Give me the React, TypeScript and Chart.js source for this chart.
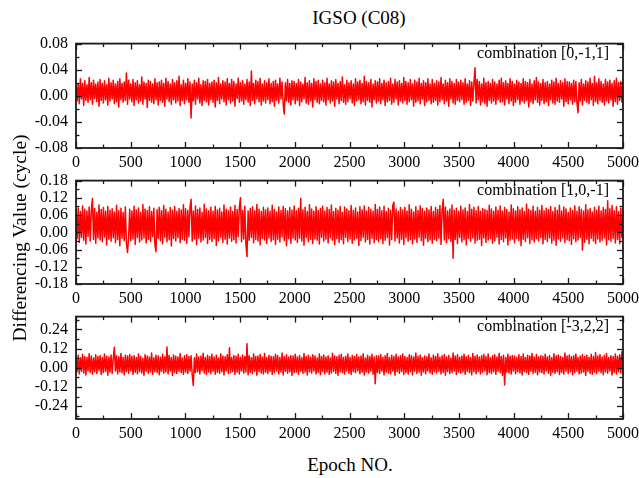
import React, { useEffect, useRef } from "react";
import { Chart, registerables } from "chart.js";

Chart.register(...registerables);

const FONT = "\"Liberation Serif\", \"Times New Roman\", Times, serif";
const EPOCH_MAX = 5000;
const X_MAJOR = 500;
const X_MINOR = 250;

const title = "IGSO (C08)";
const xTitle = "Epoch NO.";
const yTitle = "Differencing Value (cycle)";

// Differencing values sampled along epochs 0..5000, in units of 0.001 cycle
const comb011 = [
  22,-8,18,-12,26,-5,19,-15,23,-7,17,-10,28,-6,20,-13,24,-4,18,-9,21,-16,25,-7,19,
  -11,23,-6,17,-14,27,-8,20,-5,24,-12,18,-9,22,-17,26,-6,19,-10,21,-7,35,-13,24,-5,
  18,-9,25,-15,20,-6,23,-11,17,-8,29,-13,21,-5,19,-18,24,-7,22,-10,18,-12,26,-6,20,
  -14,21,-7,24,-10,19,-16,27,-5,22,-9,18,-13,25,-6,20,-11,23,-8,30,-15,17,-7,24,-12,
  19,-6,26,-10,21,-34,18,-8,24,-13,20,-5,27,-11,17,-15,23,-7,22,-9,25,-14,19,-6,21,
  -10,24,-17,20,-7,28,-12,18,-5,23,-9,21,-14,26,-6,19,-11,25,-8,22,-16,18,-4,27,-10,
  20,-8,23,-13,18,-6,25,-10,21,-15,38,-7,19,-12,24,-5,22,-9,27,-14,18,-8,23,-11,20,
  -6,26,-12,19,-9,22,-16,24,-7,18,-11,27,-5,21,-13,-28,20,-8,25,-10,19,-14,23,-6,22,
  -12,19,-7,25,-15,21,-9,18,-5,28,-11,20,-13,23,-8,19,-17,26,-6,22,-10,24,-12,18,-7,
  24,-9,20,-14,27,-6,18,-11,23,-8,21,-16,25,-5,19,-12,22,-7,29,-10,17,-13,24,-9,20,
  -5,23,-11,18,-15,26,-8,21,-6,24,-12,19,-9,30,-14,22,-7,20,-10,25,-17,18,-6,23,-11,
  21,-8,26,-12,19,-6,24,-15,20,-9,22,-7,27,-13,18,-10,25,-5,21,-14,23,-8,19,-11,28,
  -7,22,-13,20,-9,25,-6,18,-16,24,-10,21,-8,27,-12,19,-5,23,-15,20,-9,26,-7,18,-12,
  25,-10,19,-7,23,-14,21,-9,28,-6,18,-12,24,-8,20,-16,26,-5,22,-11,19,-13,25,-7,21,
  -9,24,-6,20,-13,26,-10,18,-7,23,-15,21,-8,19,43,-11,25,-6,22,-14,18,-9,27,-12,20,
  -16,22,-7,19,-11,25,-8,21,-13,18,-6,24,-10,27,-9,20,-14,23,-5,19,-12,26,-8,22,-15,
  18,-10,24,-6,21,-13,19,-8,26,-11,22,-7,20,-17,25,-9,18,-12,23,-6,28,-10,21,-14,19,
  -7,25,-12,20,-9,22,-15,18,-6,24,-11,21,-13,27,-8,19,-10,23,-5,20,-16,26,-9,22,-12,
  21,-6,19,-13,24,-9,22,-11,-26,20,-8,25,-14,18,-7,23,-10,21,-12,27,-6,19,-15,30,-9,
  20,-12,26,-7,22,-10,18,-14,25,-8,21,-11,24,-6,19,-16,23,-9,27,-13,20,-7,22,-10,24,
];

const comb101 = [
  78,-22,85,-35,72,-18,92,-28,80,-41,74,-15,88,-30,76,118,-25,83,-38,70,-20,95,-27,79,-33,
  86,-16,73,-44,90,-24,77,-31,82,-19,71,-36,94,-26,75,-47,84,-21,69,-29,88,-39,-70,-17,80,
  -30,74,-23,91,-42,78,-18,85,-34,70,-27,97,-20,81,-37,76,-25,89,-32,72,-15,84,-45,-68,79,
  -21,87,-29,75,-40,93,-17,80,-33,71,-26,86,-48,77,-22,90,-30,73,-19,83,-36,78,-24,96,-28,
  82,-38,76,-16,89,115,-31,74,-23,92,-43,79,-20,85,-34,70,-27,98,-18,81,-39,75,-25,87,-32,
  73,-22,90,-46,78,-29,84,-17,71,-35,95,-24,80,-41,76,-20,88,-31,72,-26,93,-37,79,-15,86,
  120,-33,77,-23,91,-40,-85,74,-28,83,-18,89,-36,75,-25,97,-30,80,-44,72,-21,87,-27,78,-39,
  85,-19,73,-32,94,-26,79,-42,71,-24,88,-34,76,-16,90,-29,82,-47,74,-22,86,-38,77,-20,92,
  -27,75,-35,84,-21,118,-30,78,-45,87,-18,72,-33,96,-25,81,-39,73,-23,89,-28,76,-41,83,-17,
  91,-31,74,-24,86,-37,79,-19,95,-28,72,-43,84,-22,77,-35,90,-26,70,-40,88,-18,81,-32,75,
  -23,93,-38,76,-27,85,-20,71,-46,89,-29,78,-17,92,-34,74,-25,87,-41,80,-21,73,-36,97,-26,
  79,-33,88,-22,75,-39,91,-28,72,-18,84,-44,77,-25,94,105,-30,81,-20,73,-37,86,-24,78,-42,
  87,-19,74,-31,96,-26,80,-40,71,-23,89,-35,76,-17,92,-29,83,-45,73,-21,85,-33,78,-27,90,
  -38,72,-24,86,-30,79,-20,93,-42,75,115,-27,88,-36,74,-22,81,-32,95,-90,77,-25,84,-39,73,
  -18,91,-34,78,-26,85,-43,72,-21,97,-31,80,-19,87,-37,75,-28,90,-24,73,-46,83,-20,79,-35,
  76,-27,94,-22,81,-38,73,-30,88,-17,77,-41,92,-25,74,-33,86,-20,79,-44,71,-28,95,-23,82,
  -36,74,-21,89,-29,78,-47,85,-24,72,-32,98,-19,80,-39,76,-26,91,-34,73,-22,87,-30,77,-18,
  93,-40,75,-25,84,-32,79,-20,90,-37,72,-28,86,-45,77,-23,94,-31,74,-19,88,-36,81,-26,70,
  -29,85,-42,76,-22,92,-33,73,-27,89,-18,80,-62,74,-35,96,-24,78,-40,83,-21,71,-30,87,-38,
  77,-23,91,-34,74,-28,86,-19,79,-44,110,-26,82,-31,93,-22,75,-37,89,-25,72,-40,84,-18,78,
];

const comb322 = [
  68,-25,79,-38,63,-21,84,-33,71,-45,66,-19,88,-29,74,-40,61,-24,82,-35,70,-18,77,-42,65,
  -30,86,-22,72,-47,67,-27,80,-36,62,128,-20,75,-39,69,-26,90,-31,64,-44,78,-23,73,-34,83,
  -19,70,-41,76,-28,65,-37,87,-24,71,-32,60,-46,81,-21,74,-35,68,-27,92,-40,63,-25,79,-30,
  73,-43,66,-22,85,-34,69,-26,130,-38,77,-20,64,-48,80,-29,72,-36,67,-23,89,-31,61,-41,75,
  -27,82,-35,70,-21,76,-44,-110,63,-30,86,-24,68,-39,74,-18,91,-33,65,-42,78,-26,71,-37,84,
  -22,67,-40,79,-28,62,-34,88,-25,73,-45,69,-19,81,-36,125,-30,64,-23,77,-41,72,-27,85,-38,
  66,-20,80,-33,71,-26,150,-43,76,-29,63,-37,87,-21,70,-46,74,-24,83,-32,68,-39,90,-28,65,
  -35,78,-23,72,-42,69,-30,84,-19,75,-38,64,-27,93,-44,70,-22,81,-34,67,-25,76,-48,73,-31,
  85,-26,68,-40,77,-21,63,-36,89,-28,71,-45,79,-24,66,-33,82,-20,74,-39,61,-29,87,-43,70,
  -23,80,-37,67,-27,75,-41,62,-32,91,-22,73,-35,69,-46,78,-25,84,-30,65,-38,72,-20,86,-34,
  64,-42,77,-24,70,-31,83,-19,68,-37,74,-28,88,-45,62,-26,79,-33,71,-21,85,-40,67,-100,76,
  -29,73,-36,81,-22,66,-44,75,-27,90,-32,63,-39,78,-20,70,-47,84,-25,68,-34,76,-23,87,-41,
  71,-30,64,-38,82,-24,76,-43,67,-21,93,-35,72,-28,80,-46,65,-26,74,-37,69,-19,86,-32,63,
  -40,79,-25,70,-33,88,-22,66,-39,75,-29,83,-47,68,-23,77,-36,62,-31,92,-20,73,-42,81,-27,
  66,-34,74,-26,85,-41,69,-21,78,-30,64,-44,89,-25,72,-37,80,-23,67,-38,76,-28,83,-19,70,
  -43,87,-29,63,-35,75,-24,82,-40,68,-22,91,-31,71,-46,79,-108,65,-27,84,-33,72,-39,77,-20,
  74,-37,66,-25,81,-32,70,-45,86,-23,64,-30,78,-41,73,-21,90,-36,67,-28,83,-43,69,-26,76,
  -31,72,-39,84,-20,68,-34,77,-47,63,-27,88,-36,75,-24,80,-42,71,-29,65,-38,92,-22,74,-35,
  80,-24,69,-44,76,-30,87,-21,65,-38,73,-33,82,-26,70,-48,79,-23,66,-35,85,-40,71,-28,95,
  -37,74,-22,83,-31,67,-43,78,-26,89,-34,64,-20,76,-45,70,-29,86,-39,72,-24,81,-32,100,-41,
];

const combLabels = ["combination [0,-1,1]", "combination [1,0,-1]", "combination [-3,2,2]"];

const yTicks011 = [-0.08, -0.04, 0, 0.04, 0.08];
const yTicks101 = [-0.18, -0.12, -0.06, 0, 0.06, 0.12, 0.18];
const yTicks322 = [-0.24, -0.12, 0, 0.12, 0.24];

type PanelSpec = {
  values: number[];
  label: string;
  yTicks: number[];
  yMin: number;
  yMax: number;
  yMinor: number;
  top: number; // plot area top, page px
  bottom: number; // plot area bottom, page px
};

const PLOT_LEFT = 76;
const PLOT_RIGHT = 623;
const CANVAS_W = 680;
const PAD_TOP = 12;
const X_AXIS_H = 30;

const panels: PanelSpec[] = [
  { values: comb011, label: combLabels[0], yTicks: yTicks011, yMin: -0.08, yMax: 0.08, yMinor: 0.02, top: 38, bottom: 148 },
  { values: comb101, label: combLabels[1], yTicks: yTicks101, yMin: -0.18, yMax: 0.18, yMinor: 0.03, top: 175, bottom: 284 },
  { values: comb322, label: combLabels[2], yTicks: yTicks322, yMin: -0.32, yMax: 0.32, yMinor: 0.06, top: 311, bottom: 419 },
];

// inward tick marks on all four sides plus the closed frame
const framePlugin = {
  id: "frame",
  afterDatasetsDraw(chart: any, _args: any, opts: any) {
    const { ctx, chartArea: a, scales } = chart;
    const xs = scales.x;
    const ys = scales.y;
    const stroke = (x1: number, y1: number, x2: number, y2: number) => {
      ctx.beginPath();
      ctx.moveTo(x1, y1);
      ctx.lineTo(x2, y2);
      ctx.stroke();
    };
    ctx.save();
    ctx.strokeStyle = "#1a1a1a";
    ctx.lineWidth = 1.3;
    for (let v = 0; v <= EPOCH_MAX; v += X_MINOR) {
      const px = Math.round(xs.getPixelForValue(v)) + 0.5;
      const len = v % X_MAJOR === 0 ? 6 : 3.5;
      stroke(px, a.bottom, px, a.bottom - len);
      stroke(px, a.top, px, a.top + len);
    }
    const majors: number[] = opts.majors;
    const minor: number = opts.minor;
    const k0 = Math.ceil(ys.min / minor - 1e-6);
    const k1 = Math.floor(ys.max / minor + 1e-6);
    for (let k = k0; k <= k1; k++) {
      const v = k * minor;
      const isMajor = majors.some((m) => Math.abs(m - v) < 1e-6);
      const py = Math.round(ys.getPixelForValue(v)) + 0.5;
      const len = isMajor ? 6 : 3.5;
      stroke(a.left, py, a.left + len, py);
      stroke(a.right, py, a.right - len, py);
    }
    ctx.lineWidth = 1.8;
    ctx.strokeRect(a.left, a.top, a.right - a.left, a.bottom - a.top);
    ctx.restore();
  },
};

function Panel({ spec }: { spec: PanelSpec }) {
  const ref = useRef<HTMLCanvasElement | null>(null);
  const areaH = spec.bottom - spec.top;
  const canvasH = PAD_TOP + areaH + X_AXIS_H;

  useEffect(() => {
    if (!ref.current) return;
    const n = spec.values.length;
    const points = spec.values.map((v, i) => ({
      x: (i * EPOCH_MAX) / (n - 1),
      y: v / 1000,
    }));
    const tickFont = { family: FONT, size: 16 };
    const chart = new Chart(ref.current, {
      type: "line",
      data: {
        datasets: [
          {
            data: points,
            borderColor: "#ff0000",
            borderWidth: 1.5,
            borderJoinStyle: "round",
            pointRadius: 0,
            tension: 0,
            fill: false,
          },
        ],
      },
      options: {
        animation: false,
        responsive: false,
        maintainAspectRatio: false,
        events: [],
        layout: { padding: { left: 0, right: CANVAS_W - PLOT_RIGHT, top: PAD_TOP, bottom: 0 } },
        plugins: {
          legend: { display: false },
          tooltip: { enabled: false },
          frame: { majors: spec.yTicks, minor: spec.yMinor },
        } as any,
        scales: {
          x: {
            type: "linear",
            min: 0,
            max: EPOCH_MAX,
            grid: { display: false, drawTicks: false },
            border: { display: false },
            ticks: {
              stepSize: X_MAJOR,
              autoSkip: false,
              maxRotation: 0,
              padding: 5,
              color: "#000",
              font: tickFont,
              callback: (v: any) => String(v),
            },
            afterFit: (s: any) => {
              s.height = X_AXIS_H;
            },
          },
          y: {
            type: "linear",
            min: spec.yMin,
            max: spec.yMax,
            grid: { display: false, drawTicks: false },
            border: { display: false },
            afterBuildTicks: (s: any) => {
              s.ticks = spec.yTicks.map((v) => ({ value: v }));
            },
            ticks: {
              autoSkip: false,
              padding: 8,
              color: "#000",
              font: tickFont,
              callback: (v: any) => Number(v).toFixed(2),
            },
            afterFit: (s: any) => {
              s.width = PLOT_LEFT;
            },
          },
        },
      },
      plugins: [framePlugin],
    } as any);
    let alive = true;
    // redraw once the serif face is confirmed available to the canvas
    if (document.fonts && document.fonts.load) {
      document.fonts.load("16px \"Liberation Serif\"").then(() => {
        if (alive) chart.update();
      });
    }
    return () => {
      alive = false;
      chart.destroy();
    };
  }, []);

  return (
    <>
      <canvas
        ref={ref}
        width={CANVAS_W}
        height={canvasH}
        style={{ position: "absolute", left: 0, top: spec.top - PAD_TOP, width: CANVAS_W, height: canvasH }}
      />
      <div
        style={{
          position: "absolute",
          left: 309,
          width: 300,
          top: spec.top + 6,
          textAlign: "right",
          fontFamily: FONT,
          fontSize: 16,
          lineHeight: "18px",
          color: "#000",
          whiteSpace: "nowrap",
        }}
      >
        {spec.label}
      </div>
    </>
  );
}

export default function App() {
  const textStyle: React.CSSProperties = {
    position: "absolute",
    fontFamily: FONT,
    fontSize: 19,
    lineHeight: "22px",
    color: "#000",
    textAlign: "center",
    whiteSpace: "nowrap",
  };
  return (
    <div
      style={{
        position: "absolute",
        left: 0,
        top: 0,
        width: 639,
        height: 478,
        overflow: "hidden",
        background: "#fff",
      }}
    >
      <div style={{ ...textStyle, left: 209, width: 300, top: 7 }}>{title}</div>
      {panels.map((p, i) => (
        <Panel key={i} spec={p} />
      ))}
      <div style={{ ...textStyle, left: 200, width: 300, top: 454 }}>{xTitle}</div>
      <div
        style={{
          ...textStyle,
          fontSize: 19.5,
          left: -130,
          width: 300,
          top: 227,
          transform: "rotate(-90deg)",
          transformOrigin: "center center",
        }}
      >
        {yTitle}
      </div>
    </div>
  );
}
